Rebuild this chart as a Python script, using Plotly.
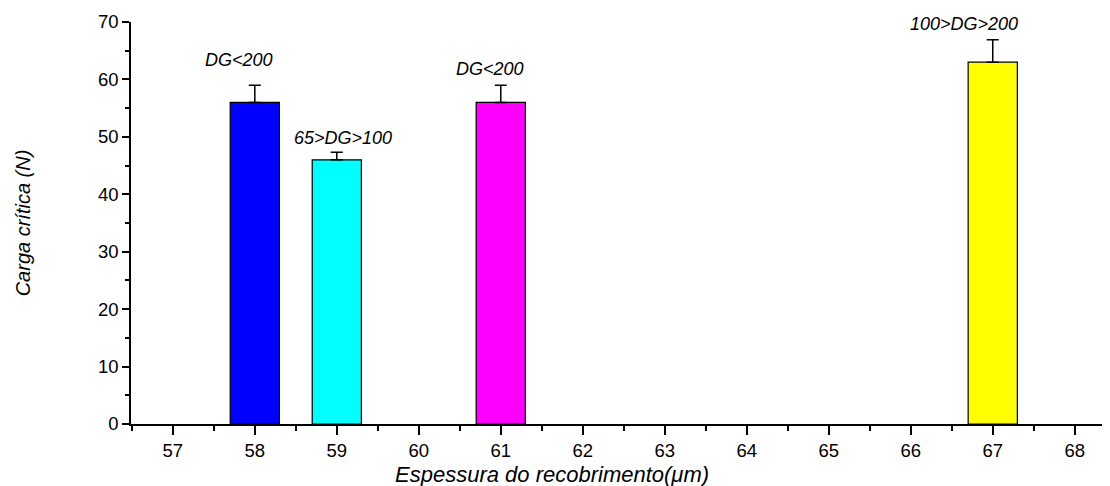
import plotly.graph_objects as go

thickness = [58, 59, 61, 67]
critical_load = [56, 46, 56, 63]
load_error = [3, 1.3, 3, 3.9]
bar_colors = ["#0000ff", "#00ffff", "#ff00ff", "#ffff00"]
labels = ["DG<200", "65>DG>100", "DG<200", "100>DG>200"]
label_xshift = [-16, 6, -11, -29]
label_yshift = [25, 14, 16, 16]

FONT = "Liberation Sans, Arial, sans-serif"

fig = go.Figure()
fig.add_trace(go.Bar(
    x=thickness, y=critical_load, width=0.6,
    marker=dict(color=bar_colors, line=dict(color="black", width=1.2)),
    error_y=dict(type="data", array=load_error, arrayminus=[0]*len(load_error),
                 symmetric=False, color="black", thickness=1.5, width=6),
    showlegend=False,
))

for x, y, e, t, dx, dy in zip(thickness, critical_load, load_error, labels, label_xshift, label_yshift):
    fig.add_annotation(x=x, y=y + e, text="<i>" + t + "</i>", showarrow=False, xshift=dx, yshift=dy,
                       font=dict(family=FONT, size=18, color="black"),
                       xanchor="center", yanchor="middle")

# x-axis title (centred under the visible axis like the reference)
fig.add_annotation(xref="paper", yref="paper", x=0.43, y=0, yshift=-50,
                   text="<i>Espessura do recobrimento(μm)</i>", showarrow=False,
                   xanchor="center", yanchor="middle",
                   font=dict(family=FONT, size=22, color="black"))

font = dict(family=FONT, size=18.5, color="black")
fig.update_layout(
    width=1102, height=478,
    margin=dict(l=123, r=0, t=14, b=62, pad=0),
    plot_bgcolor="white", paper_bgcolor="white",
    font=font,
    xaxis=dict(range=[56.49, 68.43], tickmode="linear", tick0=57, dtick=1,
               ticks="outside", ticklen=9, tickwidth=1.5, tickcolor="black",
               showline=True, linecolor="black", linewidth=1.5, showgrid=False, zeroline=False,
               minor=dict(tick0=56.5, dtick=1, ticks="outside", ticklen=5, tickwidth=1.5, tickcolor="black", showgrid=False),
               tickfont=font),
    yaxis=dict(range=[0, 70], tickmode="linear", tick0=0, dtick=10,
               ticks="outside", ticklen=7, tickwidth=1.5, tickcolor="black",
               showline=True, linecolor="black", linewidth=1.5, showgrid=False, zeroline=False,
               minor=dict(dtick=5, ticks="outside", ticklen=4, tickwidth=1.5, tickcolor="black", showgrid=False),
               title=dict(text="<i>Carga crítica (N)</i>", font=dict(family=FONT, size=20, color="black"), standoff=62),
               tickfont=font),
)

fig.write_html("out.html")
